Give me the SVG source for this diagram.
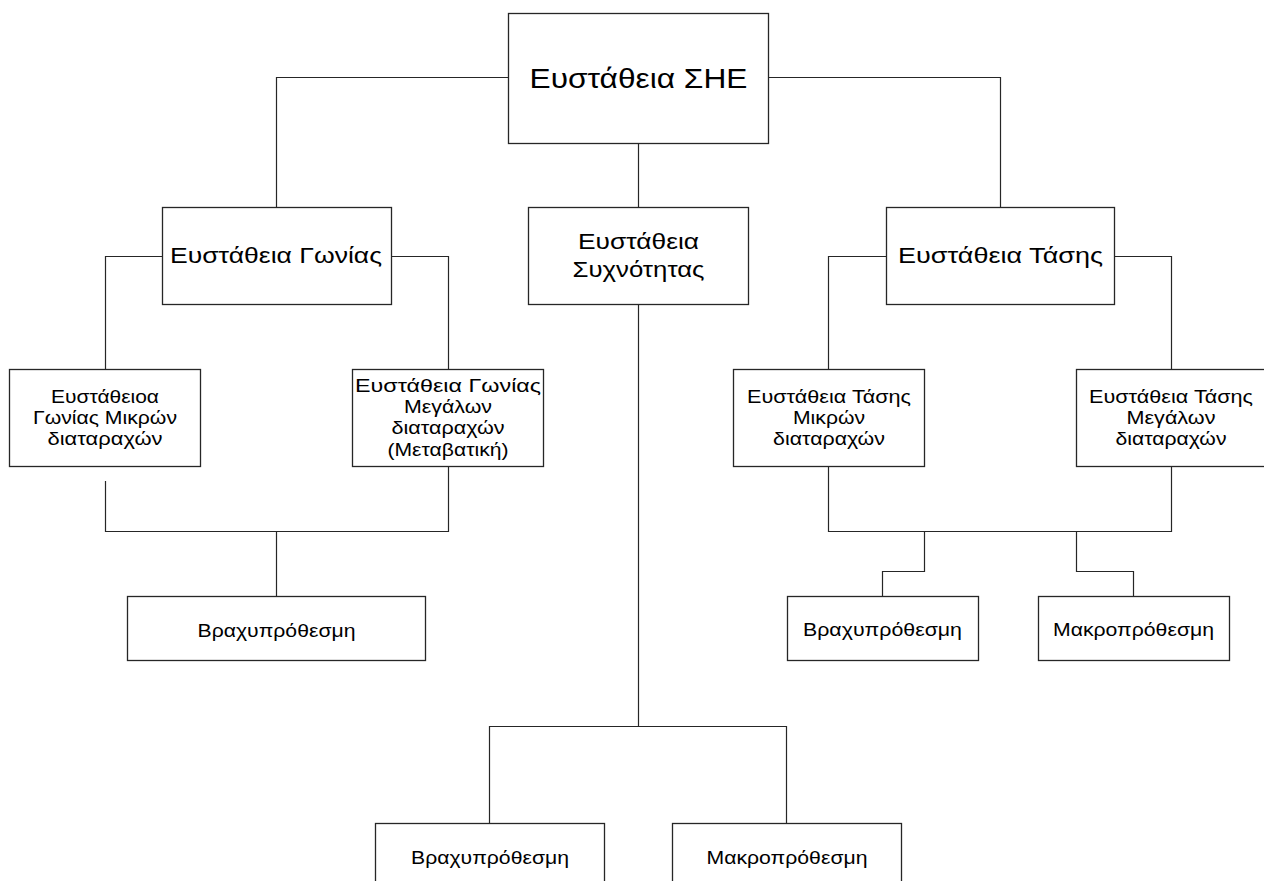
<svg xmlns="http://www.w3.org/2000/svg" width="1264" height="881" viewBox="0 0 1264 881">
<style>
.box{fill:#fff;stroke:#262626;stroke-width:1.3}
.ln{fill:none;stroke:#262626;stroke-width:1.2}
text{font-family:"Liberation Sans",Arial,sans-serif;fill:#000;text-anchor:middle}
.t1{font-size:28px}
.t2{font-size:22px}
.t3{font-size:18.5px}
</style>
<rect width="1264" height="881" fill="#fff"/>
<g id="connectors">
<polyline class="ln" points="508,77.5 276.5,77.5 276.5,207"/>
<polyline class="ln" points="768,77.5 1000.5,77.5 1000.5,207"/>
<line class="ln" x1="638.5" y1="143" x2="638.5" y2="207"/>
<polyline class="ln" points="162,256.5 105.5,256.5 105.5,369"/>
<polyline class="ln" points="391,256.5 448.5,256.5 448.5,369"/>
<polyline class="ln" points="886,256.5 828.5,256.5 828.5,369"/>
<polyline class="ln" points="1114,256.5 1171.5,256.5 1171.5,369"/>
<polyline class="ln" points="105.5,481 105.5,531.5 448.5,531.5 448.5,466"/>
<line class="ln" x1="276.5" y1="531.5" x2="276.5" y2="596"/>
<polyline class="ln" points="828.5,466 828.5,531.5 1171.5,531.5 1171.5,466"/>
<polyline class="ln" points="924.5,531.5 924.5,571.5 882.5,571.5 882.5,596"/>
<polyline class="ln" points="1076.5,531.5 1076.5,571.5 1133.5,571.5 1133.5,596"/>
<line class="ln" x1="638.5" y1="304" x2="638.5" y2="726.5"/>
<polyline class="ln" points="489.5,823 489.5,726.5 786.5,726.5 786.5,823"/>
</g>
<g id="n-she"><rect class="box" x="508.5" y="13.5" width="260" height="130"/><text class="t1" x="638.5" y="87.5" textLength="218" lengthAdjust="spacingAndGlyphs">Ευστάθεια ΣΗΕ</text></g>
<g id="n-gonias"><rect class="box" x="162.5" y="207.5" width="229" height="97"/><text class="t2" x="276" y="262.5" textLength="212" lengthAdjust="spacingAndGlyphs">Ευστάθεια Γωνίας</text></g>
<g id="n-syxn"><rect class="box" x="528.5" y="207.5" width="220" height="97"/><text class="t2" x="638.5" y="249" textLength="121" lengthAdjust="spacingAndGlyphs">Ευστάθεια</text><text class="t2" x="638.5" y="277" textLength="132" lengthAdjust="spacingAndGlyphs">Συχνότητας</text></g>
<g id="n-tasis"><rect class="box" x="886.5" y="207.5" width="228" height="97"/><text class="t2" x="1000.5" y="262.5" textLength="205" lengthAdjust="spacingAndGlyphs">Ευστάθεια Τάσης</text></g>
<g id="n-gon-small"><rect class="box" x="9.5" y="369.5" width="191" height="97"/><text class="t3" x="105" y="403" textLength="108" lengthAdjust="spacingAndGlyphs">Ευστάθειοα</text><text class="t3" x="105" y="424" textLength="144" lengthAdjust="spacingAndGlyphs">Γωνίας Μικρών</text><text class="t3" x="105" y="445" textLength="115" lengthAdjust="spacingAndGlyphs">διαταραχών</text></g>
<g id="n-gon-large"><rect class="box" x="352.5" y="369.5" width="191" height="97"/><text class="t3" x="448" y="392" textLength="186" lengthAdjust="spacingAndGlyphs">Ευστάθεια Γωνίας</text><text class="t3" x="448" y="413" textLength="88" lengthAdjust="spacingAndGlyphs">Μεγάλων</text><text class="t3" x="448" y="434" textLength="113" lengthAdjust="spacingAndGlyphs">διαταραχών</text><text class="t3" x="448" y="456" textLength="121" lengthAdjust="spacingAndGlyphs">(Μεταβατική)</text></g>
<g id="n-tas-small"><rect class="box" x="733.5" y="369.5" width="191" height="97"/><text class="t3" x="829" y="403" textLength="164" lengthAdjust="spacingAndGlyphs">Ευστάθεια Τάσης</text><text class="t3" x="829" y="424" textLength="72" lengthAdjust="spacingAndGlyphs">Μικρών</text><text class="t3" x="829" y="445" textLength="112" lengthAdjust="spacingAndGlyphs">διαταραχών</text></g>
<g id="n-tas-large"><rect class="box" x="1076.5" y="369.5" width="191" height="97"/><text class="t3" x="1171" y="403" textLength="164" lengthAdjust="spacingAndGlyphs">Ευστάθεια Τάσης</text><text class="t3" x="1171" y="424" textLength="89" lengthAdjust="spacingAndGlyphs">Μεγάλων</text><text class="t3" x="1171" y="445" textLength="111" lengthAdjust="spacingAndGlyphs">διαταραχών</text></g>
<g id="n-gon-short"><rect class="box" x="127.5" y="596.5" width="298" height="64"/><text class="t3" x="276.5" y="637" textLength="158" lengthAdjust="spacingAndGlyphs">Βραχυπρόθεσμη</text></g>
<g id="n-tas-short"><rect class="box" x="787.5" y="596.5" width="191" height="64"/><text class="t3" x="882.5" y="636" textLength="159" lengthAdjust="spacingAndGlyphs">Βραχυπρόθεσμη</text></g>
<g id="n-tas-long"><rect class="box" x="1038.5" y="596.5" width="191" height="64"/><text class="t3" x="1133.5" y="636" textLength="161" lengthAdjust="spacingAndGlyphs">Μακροπρόθεσμη</text></g>
<g id="n-syx-short"><rect class="box" x="375.5" y="823.5" width="229" height="64"/><text class="t3" x="490" y="864" textLength="158" lengthAdjust="spacingAndGlyphs">Βραχυπρόθεσμη</text></g>
<g id="n-syx-long"><rect class="box" x="672.5" y="823.5" width="229" height="64"/><text class="t3" x="787" y="864" textLength="161" lengthAdjust="spacingAndGlyphs">Μακροπρόθεσμη</text></g>
</svg>
